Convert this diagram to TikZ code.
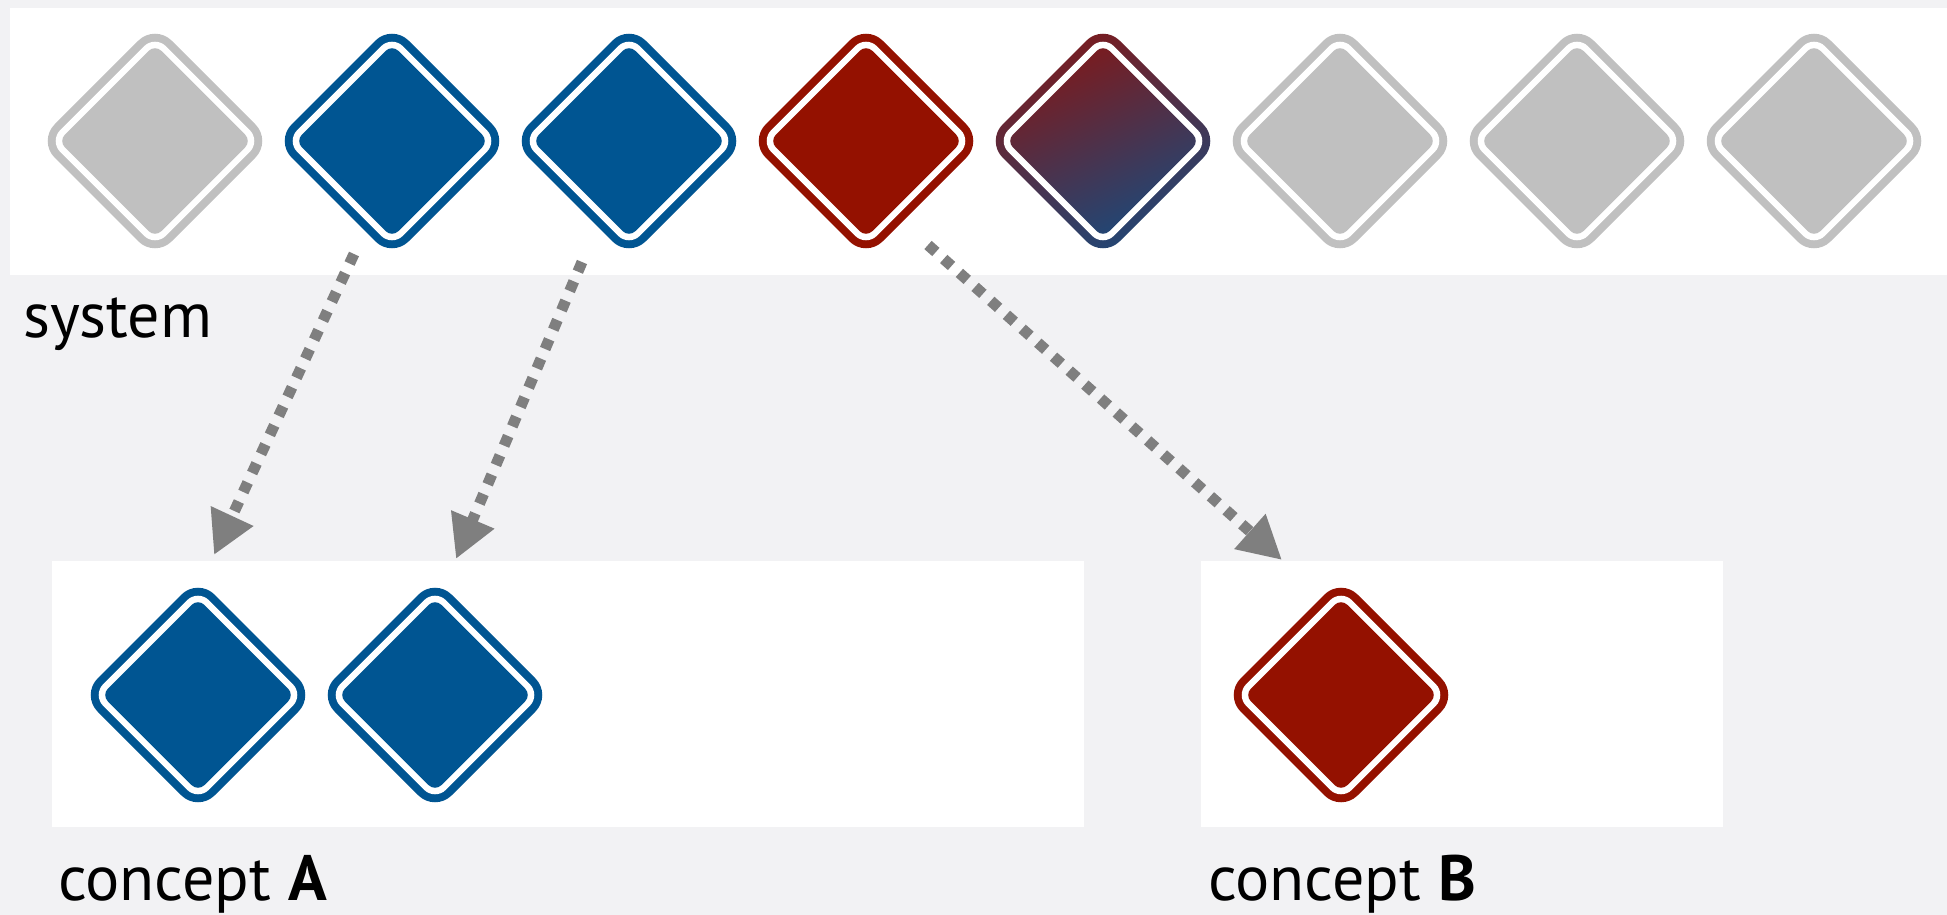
\documentclass[tikz,border=0pt]{standalone}
\usepackage{fontspec}
\setmainfont{PT Sans}
\usetikzlibrary{arrows.meta}
\definecolor{bg}{HTML}{F2F2F4}
\definecolor{gemgray}{HTML}{C0C0C0}
\definecolor{gemblue}{HTML}{005592}
\definecolor{gemred}{HTML}{941100}
\definecolor{gradred}{HTML}{7D1A1C}
\definecolor{gradblue}{HTML}{1E4878}
\definecolor{arrowgray}{HTML}{7F7F7F}
\newcommand\gem[3]{%
 \begin{scope}[shift={(#1,#2)}]
  \path[#3, rounded corners=23.5pt] (58.5,-58.5) -- (117,0) -- (0,117) -- (-117,0) -- (0,-117) -- cycle;
  \path[fill=white, rounded corners=15.5pt] (52.85,-52.85) -- (105.7,0) -- (0,105.7) -- (-105.7,0) -- (0,-105.7) -- cycle;
  \path[#3, rounded corners=9pt] (48.25,-48.25) -- (96.5,0) -- (0,96.5) -- (-96.5,0) -- (0,-96.5) -- cycle;
 \end{scope}}
\tikzset{
  lbl/.style={inner sep=0pt, anchor=base west, font=\fontsize{64pt}{76pt}\selectfont},
  conn/.style={draw=arrowgray, line width=11pt, dash pattern=on 10.5pt off 10.5pt,
    -{Triangle[length=43pt,width=44pt,fill=arrowgray]}},
  panel/.style={fill=white},
  gray gem/.style={fill=gemgray},
  blue gem/.style={fill=gemblue},
  red gem/.style={fill=gemred},
  mixed gem/.style={top color=gradred, bottom color=gradblue, shading angle=25}
}
\begin{document}
\begin{tikzpicture}[x=1pt,y=-1pt]
\useasboundingbox (0,0) rectangle (1947,915);
\fill[bg] (0,0) rectangle (1947,915);
% panels
\path[panel] (10,8) rectangle (1947,275);
\path[panel] (52,561) rectangle (1084,827);
\path[panel] (1201,561) rectangle (1723,827);
% system row
\gem{155}{141}{gray gem}
\gem{392}{141}{blue gem}
\gem{629}{141}{blue gem}
\gem{866}{141}{red gem}
\gem{1103}{141}{mixed gem}
\gem{1340}{141}{gray gem}
\gem{1577}{141}{gray gem}
\gem{1814}{141}{gray gem}
% concept A
\gem{198}{695}{blue gem}
\gem{435}{695}{blue gem}
% concept B
\gem{1341}{695}{red gem}
% labels
\node[lbl] (sys) at (23,337) {system};
\node[lbl] (ca) at (58,900) {concept \textbf{A}};
\node[lbl] (cb) at (1208,900) {concept \textbf{B}};
% connectors
\coordinate (a1s) at (354,254); \coordinate (a1e) at (214,555);
\coordinate (a2s) at (582,262); \coordinate (a2e) at (456,559);
\coordinate (a3s) at (928,245); \coordinate (a3e) at (1282,560);
\draw[conn] (a1s) -- (a1e);
\draw[conn] (a2s) -- (a2e);
\draw[conn] (a3s) -- (a3e);
\end{tikzpicture}
\end{document}
